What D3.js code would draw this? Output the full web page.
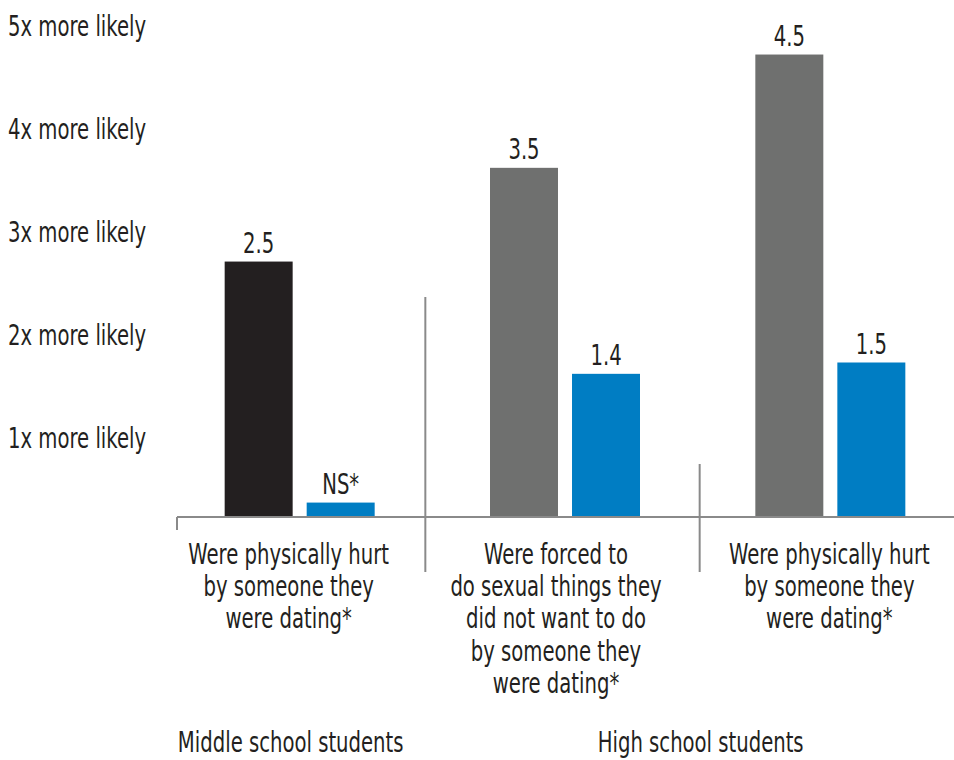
<!DOCTYPE html>
<html>
<head>
<meta charset="utf-8">
<script src="https://cdn.jsdelivr.net/npm/d3@7"></script>
<style>
  body { margin: 0; background: #fff; }
  .lbl { font-family: "DejaVu Sans Condensed", "Liberation Sans", sans-serif; font-size: 28px; fill: #231f20; }
</style>
</head>
<body>
<svg id="chart" width="954" height="760"></svg>
<script>
const categories = [
  'Were physically hurt|by someone they|were dating*',
  'Were forced to|do sexual things they|did not want to do|by someone they|were dating*',
  'Were physically hurt|by someone they|were dating*'
];
const groupNames = ['Middle school students', 'High school students'];
const groupOf = [0, 1, 1];
const series = ['first', 'second'];
// bar heights (in "x more likely" units)
const firstValues = [2.48, 3.39, 4.49];
const secondValues = [0.14, 1.39, 1.5];
const firstLabels = ['2.5', '3.5', '4.5'];
const secondLabels = ['NS*', '1.4', '1.5'];
const tickValues = [1, 2, 3, 4, 5];
const tickLabels = ['1x more likely', '2x more likely', '3x more likely', '4x more likely', '5x more likely'];

const firstColors = ['#231f20', '#6f706f', '#6f706f'];
const secondColor = '#007dc3';

const svg = d3.select('#chart');
const baseY = 517;
const squeeze = 0.78; // the original uses a condensed face

const y = d3.scaleLinear().domain([0, 5]).range([baseY, 2]);
const x0 = d3.scaleBand().domain(d3.range(categories.length)).range([167, 963]);
const x1 = d3.scaleBand().domain(series)
  .range([x0.bandwidth() / 2 - 75, x0.bandwidth() / 2 + 75])
  .paddingInner(0.171);

const place = (x, yy) => `translate(${x},${yy}) scale(${squeeze},1)`;

// y labels (no axis line)
svg.append('g')
  .selectAll('text')
  .data(tickValues)
  .enter()
  .append('text')
  .attr('class', 'lbl')
  .attr('transform', (d) => place(8, y(d) + 34))
  .text((d, i) => tickLabels[i]);

const rows = categories.map((c, i) => [
  { s: 'first', v: firstValues[i], label: firstLabels[i], color: firstColors[i] },
  { s: 'second', v: secondValues[i], label: secondLabels[i], color: secondColor }
]);

const groups = svg.append('g')
  .selectAll('g')
  .data(rows)
  .enter()
  .append('g')
  .attr('transform', (d, i) => `translate(${x0(i)},0)`);

groups.selectAll('rect')
  .data((d) => d)
  .enter()
  .append('rect')
  .attr('x', (d) => x1(d.s))
  .attr('y', (d) => y(d.v))
  .attr('width', x1.bandwidth())
  .attr('height', (d) => baseY - y(d.v))
  .attr('fill', (d) => d.color);

groups.selectAll('text')
  .data((d) => d)
  .enter()
  .append('text')
  .attr('class', 'lbl')
  .attr('text-anchor', 'middle')
  .attr('transform', (d) => place(x1(d.s) + x1.bandwidth() / 2, y(d.v) - 9))
  .text((d) => d.label);

// baseline, left tick and dividers
const lines = svg.append('g').attr('stroke', '#8a8a8a').attr('stroke-width', 2);
lines.append('line').attr('x1', 177).attr('x2', 954).attr('y1', baseY).attr('y2', baseY);
lines.append('line').attr('x1', 177).attr('x2', 177).attr('y1', baseY).attr('y2', baseY + 13);
lines.append('line').attr('x1', x0(1) - 7).attr('x2', x0(1) - 7).attr('y1', 297).attr('y2', 572);
lines.append('line').attr('x1', x0(2) + 2).attr('x2', x0(2) + 2).attr('y1', 464).attr('y2', 572);

// category labels
const labelShift = [-11, -9, -1];
svg.append('g')
  .selectAll('text')
  .data(categories)
  .enter()
  .append('text')
  .attr('class', 'lbl')
  .attr('text-anchor', 'middle')
  .attr('transform', (d, i) => place(x0(i) + x0.bandwidth() / 2 + labelShift[i], 564))
  .selectAll('tspan')
  .data((d) => d.split('|'))
  .enter()
  .append('tspan')
  .attr('x', 0)
  .attr('y', (d, i) => i * 32.2)
  .text((d) => d);

// group labels
const groupShift = [-9, 3];
svg.append('g')
  .selectAll('text')
  .data(groupNames)
  .enter()
  .append('text')
  .attr('class', 'lbl')
  .attr('text-anchor', 'middle')
  .attr('transform', (d, gi) => {
    const idx = groupOf.map((g, i) => g === gi ? i : -1).filter((i) => i >= 0);
    return place(d3.mean(idx, (i) => x0(i) + x0.bandwidth() / 2) + groupShift[gi], 752);
  })
  .text((d) => d);
</script>
</body>
</html>
